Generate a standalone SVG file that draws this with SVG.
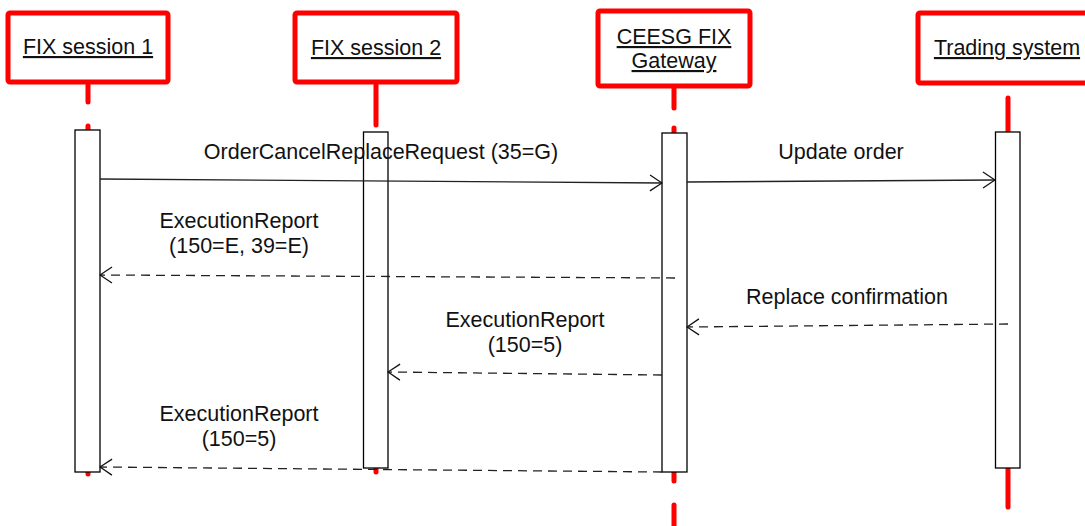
<svg xmlns="http://www.w3.org/2000/svg" width="1085" height="526" viewBox="0 0 1085 526">
<defs>
<style>
.hdr{fill:#fff;stroke:#ff0000;stroke-width:5;stroke-linejoin:round}
.life{stroke:#ff0000;stroke-width:5;stroke-linecap:round;fill:none}
.act{fill:#fff;stroke:#000;stroke-width:1.3}
.t{font-family:"Liberation Sans",Arial,sans-serif;font-size:21.5px;fill:#111;text-anchor:middle}
.u{text-decoration:underline}
.msg{stroke:#222;stroke-width:1.3;fill:none}
.dash{stroke-dasharray:9 6}
</style>
<marker id="open" viewBox="0 0 14 18" refX="13" refY="9" markerWidth="14" markerHeight="18" markerUnits="userSpaceOnUse" orient="auto">
<path d="M1,1 L13,9 L1,17" fill="none" stroke="#111" stroke-width="1.3"/>
</marker>
</defs>
<g id="lifelines">
<line class="life" x1="88" y1="82" x2="88" y2="102"/>
<line class="life" x1="88" y1="126" x2="88" y2="474"/>
<line class="life" x1="376" y1="82" x2="376" y2="125"/>
<line class="life" x1="376" y1="300" x2="376" y2="472"/>
<line class="life" x1="674" y1="86" x2="674" y2="108"/>
<line class="life" x1="674" y1="128" x2="674" y2="481"/>
<line class="life" x1="674" y1="505" x2="674" y2="530"/>
<line class="life" x1="1008" y1="98" x2="1008" y2="132"/>
<line class="life" x1="1008" y1="460" x2="1008" y2="507"/>
</g>
<g id="node-fix1">
<rect class="hdr" x="8" y="13" width="160" height="69" rx="2"/>
<text class="t u" x="88" y="54">FIX session 1</text>
<rect class="act" x="75" y="130" width="25" height="342"/>
</g>
<g id="node-fix2">
<rect class="hdr" x="295" y="13" width="162" height="69" rx="2"/>
<text class="t u" x="376" y="55">FIX session 2</text>
<rect class="act" x="363.5" y="132" width="24.5" height="336"/>
</g>
<g id="node-gateway">
<rect class="hdr" x="598" y="11" width="152" height="75" rx="2"/>
<text class="t u" x="674" y="44">CEESG FIX</text>
<text class="t u" x="674" y="68">Gateway</text>
<rect class="act" x="662" y="133" width="25" height="339"/>
</g>
<g id="node-trading">
<rect class="hdr" x="918" y="13" width="180" height="70" rx="2"/>
<text class="t u" x="1007" y="55">Trading system</text>
<rect class="act" x="995.5" y="132" width="24.5" height="336"/>
</g>
<g id="connectors">
<line class="msg" x1="100" y1="179" x2="662" y2="183" marker-end="url(#open)"/>
<line class="msg" x1="687" y1="182" x2="995" y2="180" marker-end="url(#open)"/>
<line class="msg dash" x1="675" y1="278" x2="100" y2="275" marker-end="url(#open)"/>
<line class="msg dash" x1="1008" y1="324" x2="687" y2="327" marker-end="url(#open)"/>
<line class="msg dash" x1="662" y1="375" x2="388" y2="372" marker-end="url(#open)"/>
<line class="msg dash" x1="662" y1="472" x2="100" y2="467" marker-end="url(#open)"/>
</g>
<g id="labels">
<text class="t" x="381" y="159">OrderCancelReplaceRequest (35=G)</text>
<text class="t" x="841" y="159">Update order</text>
<text class="t" x="239" y="228">ExecutionReport</text>
<text class="t" x="239" y="253">(150=E, 39=E)</text>
<text class="t" x="847" y="304">Replace confirmation</text>
<text class="t" x="525" y="327">ExecutionReport</text>
<text class="t" x="525" y="352">(150=5)</text>
<text class="t" x="239" y="421">ExecutionReport</text>
<text class="t" x="239" y="446">(150=5)</text>
</g>
</svg>
